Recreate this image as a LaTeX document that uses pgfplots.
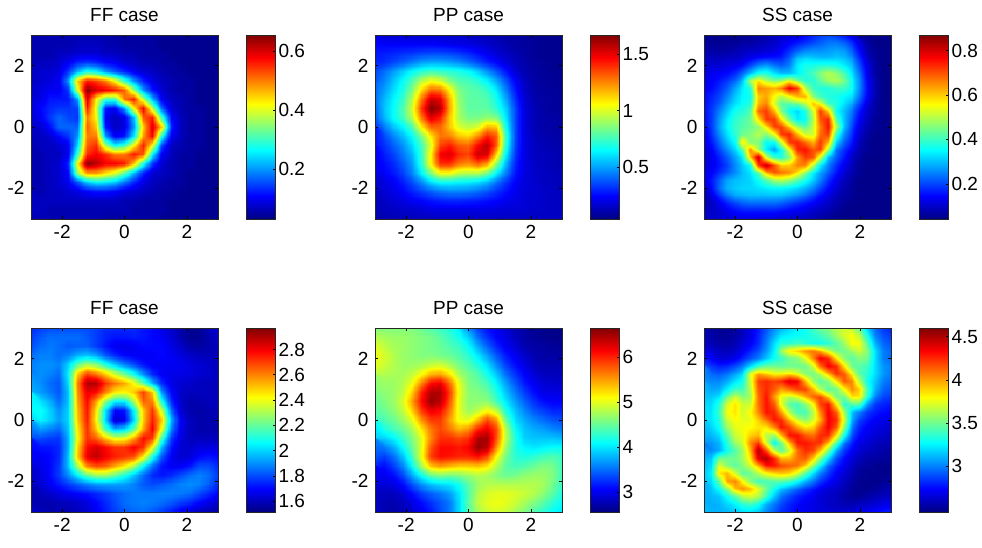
\documentclass[border=0pt]{standalone}
\usepackage{fontspec}
\setmainfont{Liberation Sans}
\usepackage{pgfplots}
\usepgfplotslibrary{patchplots}
\pgfplotsset{compat=1.18}
\newcommand\fs{\fontsize{19}{22}\selectfont}
\pgfplotsset{
 panel/.style n args={3}{
  at={(#1pt,#2pt)},anchor=south west,scale only axis,width=187pt,height=184pt,
  xmin=-3,xmax=3,ymin=-3,ymax=3,xtick={-2,0,2},ytick={-2,0,2},
  xticklabels={-2,0,2},yticklabels={-2,0,2},
  tick align=inside,major tick length=3pt,tick style={black,line width=0.5pt},
  axis line style={line width=0.7pt,black!85},
  tick label style={font=\fs},
  xticklabel style={yshift=-3pt},yticklabel style={xshift=-3pt},
  title style={font=\fs,yshift=4pt},
  title=#3,colormap/jet,axis on top,
 },
 cb/.style 2 args={point meta min=#1,point meta max=#2},
 g21/.style={surf,shader=interp,patch type=bilinear,mesh/cols=21,mesh/ordering=x varies},
 g25/.style={surf,shader=interp,patch type=bilinear,mesh/cols=25,mesh/ordering=x varies},
}
% colour bar: x pos, y pos, min, max, ticks
\newcommand\cbar[5]{%
\begin{axis}[at={(#1pt,#2pt)},anchor=south west,scale only axis,width=29pt,height=184pt,
  xmin=0,xmax=1,ymin=#3,ymax=#4,xtick=\empty,ytick={#5},yticklabels={#5},
  ytick pos=right,yticklabel pos=right,
  tick align=inside,major tick length=2.5pt,tick style={black,line width=0.5pt},
  axis line style={line width=0.7pt,black!85},tick label style={font=\fs},
  colormap/jet,point meta min=#3,point meta max=#4,axis on top]
\addplot[surf,shader=interp,mesh/cols=2,mesh/ordering=x varies,point meta=y] coordinates {(0,#3)(1,#3)(0,#4)(1,#4)};
\end{axis}}
\begin{document}
\begin{tikzpicture}
\path[use as bounding box] (0pt,0pt) rectangle (982pt,547pt);
% ---------- FF top
\begin{axis}[panel={31}{328}{FF case},cb={0.03}{0.654}]
\addplot[g21] table[row sep=\\,header=false,x expr={-3+0.3*mod(\coordindex,21)},y expr={3-0.3*floor(\coordindex/21)},point meta=\thisrowno{0}]{
.06\\.06\\.06\\.06\\.06\\.06\\.06\\.06\\.06\\.05\\.05\\.05\\.05\\.05\\.04\\.04\\.04\\.04\\.04\\.04\\.04\\
.06\\.06\\.06\\.06\\.06\\.07\\.07\\.07\\.06\\.06\\.05\\.05\\.05\\.05\\.04\\.04\\.04\\.04\\.04\\.04\\.04\\
.06\\.06\\.06\\.07\\.07\\.08\\.08\\.08\\.07\\.07\\.06\\.06\\.05\\.05\\.05\\.04\\.04\\.04\\.04\\.04\\.04\\
.06\\.07\\.07\\.08\\.1\\.13\\.14\\.13\\.11\\.1\\.08\\.07\\.06\\.06\\.05\\.05\\.04\\.04\\.04\\.04\\.04\\
.07\\.08\\.08\\.09\\.14\\.22\\.28\\.26\\.2\\.16\\.13\\.1\\.08\\.07\\.06\\.05\\.05\\.04\\.04\\.04\\.04\\
.07\\.08\\.09\\.1\\.2\\.45\\.56\\.54\\.5\\.42\\.3\\.2\\.13\\.09\\.07\\.06\\.05\\.05\\.04\\.04\\.04\\
.07\\.09\\.1\\.1\\.14\\.4\\.65\\.6\\.58\\.56\\.52\\.36\\.2\\.12\\.08\\.06\\.05\\.05\\.04\\.04\\.04\\
.08\\.09\\.12\\.12\\.12\\.2\\.6\\.42\\.3\\.3\\.5\\.56\\.38\\.22\\.1\\.07\\.06\\.05\\.04\\.04\\.04\\
.08\\.11\\.13\\.14\\.14\\.15\\.56\\.4\\.12\\.1\\.2\\.42\\.58\\.38\\.17\\.08\\.06\\.05\\.05\\.04\\.04\\
.08\\.1\\.14\\.17\\.15\\.14\\.5\\.42\\.1\\.07\\.09\\.22\\.52\\.56\\.3\\.11\\.07\\.05\\.05\\.04\\.04\\
.07\\.08\\.11\\.17\\.17\\.17\\.52\\.45\\.12\\.07\\.09\\.2\\.45\\.6\\.45\\.13\\.07\\.05\\.05\\.04\\.04\\
.07\\.07\\.08\\.11\\.14\\.2\\.5\\.5\\.2\\.1\\.12\\.25\\.48\\.58\\.28\\.1\\.07\\.05\\.05\\.04\\.04\\
.06\\.07\\.07\\.08\\.1\\.24\\.52\\.55\\.36\\.26\\.3\\.42\\.56\\.42\\.15\\.07\\.06\\.05\\.05\\.04\\.04\\
.06\\.06\\.07\\.07\\.1\\.3\\.55\\.58\\.55\\.5\\.5\\.56\\.52\\.26\\.1\\.07\\.05\\.05\\.04\\.04\\.04\\
.06\\.06\\.07\\.08\\.13\\.42\\.65\\.62\\.58\\.58\\.56\\.46\\.28\\.14\\.08\\.06\\.05\\.05\\.04\\.04\\.04\\
.06\\.06\\.07\\.08\\.11\\.36\\.48\\.48\\.44\\.4\\.32\\.22\\.13\\.08\\.07\\.06\\.05\\.04\\.04\\.04\\.04\\
.06\\.06\\.07\\.08\\.1\\.16\\.23\\.26\\.25\\.23\\.18\\.13\\.09\\.07\\.06\\.05\\.05\\.04\\.04\\.04\\.04\\
.06\\.06\\.07\\.07\\.08\\.09\\.11\\.12\\.12\\.11\\.09\\.08\\.07\\.06\\.05\\.05\\.04\\.04\\.04\\.04\\.04\\
.07\\.07\\.07\\.07\\.07\\.07\\.07\\.07\\.07\\.07\\.06\\.06\\.05\\.05\\.05\\.04\\.04\\.04\\.04\\.04\\.04\\
.07\\.07\\.06\\.06\\.06\\.06\\.06\\.06\\.06\\.06\\.06\\.05\\.05\\.05\\.05\\.04\\.04\\.04\\.04\\.04\\.04\\
.06\\.06\\.06\\.06\\.06\\.06\\.06\\.06\\.05\\.05\\.05\\.05\\.05\\.05\\.04\\.04\\.04\\.04\\.04\\.04\\.04\\
};
\end{axis}
\cbar{246}{328}{0.03}{0.654}{0.2,0.4,0.6}
% ---------- PP top
\begin{axis}[panel={375}{328}{PP case},cb={0.044}{1.667}]
\addplot[g21] table[row sep=\\,header=false,x expr={-3+0.3*mod(\coordindex,21)},y expr={3-0.3*floor(\coordindex/21)},point meta=\thisrowno{0}]{
.2\\.18\\.17\\.17\\.17\\.17\\.17\\.17\\.16\\.16\\.15\\.14\\.13\\.12\\.11\\.1\\.09\\.08\\.07\\.07\\.07\\
.25\\.24\\.24\\.24\\.24\\.24\\.24\\.23\\.22\\.21\\.2\\.18\\.16\\.14\\.12\\.1\\.09\\.08\\.07\\.07\\.07\\
.28\\.29\\.3\\.32\\.33\\.35\\.36\\.36\\.35\\.33\\.3\\.26\\.22\\.18\\.15\\.12\\.1\\.08\\.07\\.07\\.07\\
.3\\.32\\.36\\.4\\.45\\.5\\.52\\.52\\.5\\.47\\.42\\.36\\.3\\.25\\.19\\.14\\.11\\.09\\.08\\.07\\.07\\
.36\\.42\\.5\\.58\\.66\\.72\\.76\\.74\\.72\\.7\\.66\\.58\\.48\\.38\\.28\\.18\\.12\\.1\\.08\\.08\\.07\\
.38\\.46\\.56\\.66\\.78\\.95\\1.05\\1.0\\.86\\.78\\.76\\.72\\.64\\.52\\.38\\.24\\.15\\.1\\.09\\.08\\.08\\
.4\\.5\\.6\\.7\\.86\\1.12\\1.3\\1.28\\1.08\\.85\\.8\\.78\\.74\\.62\\.45\\.28\\.16\\.11\\.09\\.09\\.08\\
.42\\.54\\.64\\.74\\.95\\1.28\\1.55\\1.5\\1.18\\.88\\.8\\.8\\.78\\.68\\.52\\.32\\.18\\.12\\.1\\.09\\.08\\
.42\\.56\\.66\\.78\\1.0\\1.38\\1.66\\1.58\\1.2\\.9\\.8\\.8\\.8\\.72\\.58\\.36\\.19\\.13\\.1\\.09\\.09\\
.38\\.54\\.66\\.76\\.95\\1.28\\1.52\\1.42\\1.15\\.92\\.84\\.84\\.88\\.85\\.62\\.36\\.19\\.13\\.11\\.1\\.09\\
.32\\.44\\.56\\.64\\.78\\1.08\\1.3\\1.3\\1.15\\1.0\\.95\\1.0\\1.18\\1.15\\.68\\.36\\.19\\.13\\.11\\.1\\.1\\
.28\\.36\\.46\\.55\\.66\\.85\\1.1\\1.28\\1.26\\1.15\\1.12\\1.25\\1.42\\1.32\\.75\\.36\\.2\\.14\\.12\\.11\\.1\\
.26\\.32\\.4\\.48\\.6\\.76\\1.02\\1.36\\1.42\\1.32\\1.3\\1.46\\1.58\\1.32\\.72\\.35\\.2\\.15\\.13\\.12\\.11\\
.24\\.29\\.35\\.44\\.54\\.74\\1.08\\1.48\\1.52\\1.4\\1.36\\1.55\\1.52\\1.12\\.64\\.33\\.2\\.15\\.14\\.13\\.11\\
.22\\.26\\.31\\.39\\.5\\.72\\1.08\\1.4\\1.4\\1.28\\1.24\\1.32\\1.22\\.88\\.54\\.3\\.2\\.16\\.14\\.13\\.12\\
.2\\.24\\.28\\.35\\.46\\.64\\.86\\1.05\\1.05\\.96\\.94\\.94\\.84\\.64\\.45\\.28\\.2\\.16\\.15\\.14\\.13\\
.17\\.2\\.23\\.29\\.37\\.47\\.6\\.66\\.66\\.64\\.63\\.6\\.54\\.43\\.33\\.24\\.19\\.17\\.15\\.14\\.13\\
.15\\.18\\.21\\.25\\.3\\.35\\.4\\.44\\.46\\.46\\.45\\.42\\.38\\.32\\.27\\.22\\.18\\.17\\.16\\.15\\.14\\
.14\\.16\\.18\\.2\\.23\\.25\\.28\\.3\\.31\\.31\\.3\\.29\\.27\\.25\\.22\\.2\\.18\\.17\\.16\\.15\\.15\\
.13\\.14\\.15\\.16\\.17\\.18\\.2\\.2\\.2\\.2\\.2\\.2\\.2\\.19\\.18\\.18\\.17\\.16\\.16\\.15\\.15\\
.11\\.12\\.13\\.13\\.14\\.14\\.14\\.15\\.15\\.15\\.15\\.15\\.15\\.15\\.15\\.15\\.15\\.15\\.15\\.15\\.15\\
};
\end{axis}
\cbar{590}{328}{0.044}{1.667}{0.5,1,1.5}
% ---------- SS top
\begin{axis}[panel={704}{328}{SS case},cb={0.042}{0.87}]
\addplot[g25] table[row sep=\\,header=false,x expr={-3+0.25*mod(\coordindex,25)},y expr={3-0.25*floor(\coordindex/25)},point meta=\thisrowno{0}]{
.06\\.05\\.05\\.05\\.05\\.05\\.06\\.07\\.08\\.09\\.1\\.11\\.12\\.14\\.17\\.19\\.2\\.18\\.15\\.11\\.07\\.05\\.05\\.05\\.05\\
.07\\.06\\.06\\.06\\.06\\.07\\.07\\.08\\.09\\.1\\.12\\.14\\.16\\.18\\.2\\.22\\.24\\.24\\.22\\.18\\.12\\.07\\.05\\.05\\.05\\
.08\\.07\\.07\\.07\\.08\\.09\\.1\\.1\\.11\\.12\\.14\\.18\\.22\\.25\\.26\\.26\\.27\\.28\\.27\\.22\\.15\\.08\\.06\\.05\\.05\\
.1\\.09\\.09\\.1\\.1\\.11\\.13\\.15\\.16\\.16\\.17\\.22\\.3\\.32\\.31\\.3\\.3\\.31\\.3\\.26\\.18\\.1\\.06\\.05\\.05\\
.11\\.11\\.11\\.12\\.13\\.15\\.2\\.25\\.27\\.24\\.22\\.25\\.34\\.37\\.37\\.38\\.38\\.37\\.34\\.3\\.21\\.12\\.07\\.05\\.05\\
.12\\.13\\.14\\.15\\.18\\.23\\.3\\.37\\.38\\.33\\.3\\.3\\.34\\.38\\.41\\.46\\.5\\.47\\.41\\.33\\.24\\.13\\.07\\.05\\.05\\
.13\\.14\\.16\\.19\\.23\\.3\\.5\\.58\\.5\\.46\\.48\\.55\\.45\\.38\\.38\\.43\\.48\\.5\\.45\\.36\\.26\\.14\\.08\\.05\\.05\\
.13\\.15\\.18\\.22\\.28\\.34\\.38\\.66\\.64\\.62\\.66\\.78\\.72\\.5\\.4\\.38\\.38\\.4\\.4\\.36\\.26\\.15\\.08\\.05\\.05\\
.14\\.17\\.2\\.25\\.31\\.35\\.36\\.6\\.63\\.56\\.5\\.56\\.62\\.62\\.46\\.4\\.38\\.37\\.35\\.33\\.24\\.14\\.08\\.05\\.05\\
.15\\.18\\.22\\.28\\.33\\.36\\.38\\.62\\.66\\.52\\.42\\.42\\.44\\.5\\.62\\.55\\.4\\.38\\.33\\.28\\.2\\.12\\.07\\.05\\.05\\
.15\\.19\\.25\\.31\\.37\\.38\\.42\\.68\\.72\\.62\\.46\\.36\\.32\\.38\\.52\\.72\\.6\\.36\\.3\\.24\\.16\\.1\\.07\\.05\\.05\\
.15\\.19\\.27\\.34\\.39\\.41\\.44\\.58\\.72\\.72\\.58\\.44\\.34\\.36\\.5\\.7\\.74\\.42\\.3\\.22\\.14\\.09\\.06\\.05\\.05\\
.14\\.19\\.28\\.35\\.4\\.42\\.44\\.46\\.58\\.72\\.72\\.6\\.48\\.42\\.52\\.66\\.76\\.5\\.3\\.2\\.12\\.08\\.06\\.05\\.05\\
.13\\.18\\.26\\.33\\.39\\.44\\.46\\.5\\.46\\.55\\.72\\.74\\.62\\.52\\.52\\.68\\.72\\.4\\.26\\.18\\.11\\.07\\.05\\.05\\.05\\
.12\\.16\\.23\\.3\\.36\\.58\\.46\\.46\\.36\\.36\\.52\\.72\\.74\\.68\\.62\\.72\\.62\\.32\\.22\\.16\\.09\\.06\\.05\\.05\\.05\\
.11\\.14\\.2\\.26\\.32\\.42\\.66\\.48\\.34\\.27\\.36\\.54\\.74\\.76\\.7\\.72\\.48\\.24\\.18\\.13\\.08\\.06\\.05\\.05\\.05\\
.11\\.13\\.17\\.22\\.28\\.34\\.6\\.82\\.52\\.4\\.38\\.46\\.64\\.72\\.7\\.52\\.3\\.22\\.16\\.1\\.07\\.05\\.05\\.05\\.05\\
.11\\.13\\.16\\.2\\.26\\.31\\.36\\.72\\.82\\.7\\.6\\.6\\.66\\.66\\.5\\.34\\.25\\.18\\.13\\.09\\.06\\.05\\.05\\.05\\.05\\
.12\\.14\\.18\\.22\\.26\\.3\\.33\\.42\\.62\\.7\\.68\\.66\\.58\\.46\\.34\\.28\\.22\\.16\\.11\\.08\\.06\\.05\\.05\\.05\\.05\\
.12\\.16\\.22\\.28\\.3\\.31\\.32\\.36\\.42\\.48\\.5\\.47\\.42\\.37\\.31\\.25\\.18\\.13\\.09\\.07\\.05\\.05\\.05\\.05\\.05\\
.1\\.15\\.23\\.29\\.31\\.32\\.32\\.33\\.34\\.35\\.35\\.34\\.32\\.29\\.25\\.2\\.15\\.11\\.08\\.06\\.05\\.05\\.05\\.05\\.05\\
.08\\.12\\.18\\.24\\.28\\.29\\.3\\.3\\.3\\.3\\.3\\.28\\.26\\.23\\.19\\.15\\.12\\.09\\.07\\.06\\.05\\.05\\.05\\.05\\.05\\
.08\\.09\\.13\\.17\\.2\\.22\\.23\\.23\\.23\\.23\\.22\\.2\\.18\\.16\\.14\\.12\\.1\\.08\\.06\\.05\\.05\\.05\\.05\\.05\\.05\\
.09\\.1\\.11\\.13\\.15\\.16\\.16\\.16\\.16\\.16\\.15\\.14\\.13\\.12\\.1\\.09\\.08\\.06\\.05\\.05\\.05\\.05\\.05\\.05\\.05\\
.1\\.11\\.11\\.11\\.12\\.12\\.12\\.12\\.11\\.11\\.1\\.1\\.09\\.09\\.08\\.07\\.06\\.05\\.05\\.05\\.05\\.05\\.05\\.05\\.05\\
};
\end{axis}
\cbar{919}{328}{0.042}{0.87}{0.2,0.4,0.6,0.8}
% ---------- FF bottom
\begin{axis}[panel={31}{35}{FF case},cb={1.513}{2.97}]
\addplot[g21] table[row sep=\\,header=false,x expr={-3+0.3*mod(\coordindex,21)},y expr={3-0.3*floor(\coordindex/21)},point meta=\thisrowno{0}]{
1.75\\1.78\\1.8\\1.8\\1.8\\1.8\\1.8\\1.78\\1.75\\1.75\\1.75\\1.75\\1.72\\1.7\\1.66\\1.62\\1.58\\1.54\\1.55\\1.6\\1.65\\
1.78\\1.82\\1.85\\1.85\\1.85\\1.85\\1.82\\1.78\\1.74\\1.72\\1.72\\1.73\\1.72\\1.7\\1.68\\1.64\\1.58\\1.54\\1.54\\1.58\\1.62\\
1.8\\1.85\\1.87\\1.85\\1.82\\1.83\\1.83\\1.78\\1.72\\1.67\\1.66\\1.68\\1.7\\1.7\\1.7\\1.66\\1.62\\1.57\\1.56\\1.58\\1.6\\
1.85\\1.88\\1.88\\1.85\\1.88\\1.95\\1.98\\1.93\\1.82\\1.75\\1.7\\1.68\\1.68\\1.69\\1.7\\1.68\\1.65\\1.62\\1.6\\1.6\\1.6\\
1.88\\1.9\\1.9\\1.88\\2.0\\2.2\\2.3\\2.25\\2.1\\1.98\\1.88\\1.8\\1.72\\1.68\\1.68\\1.68\\1.67\\1.65\\1.63\\1.62\\1.6\\
1.88\\1.9\\1.88\\1.85\\2.05\\2.5\\2.7\\2.62\\2.5\\2.35\\2.22\\2.08\\1.9\\1.75\\1.68\\1.66\\1.66\\1.65\\1.63\\1.62\\1.6\\
1.9\\1.9\\1.85\\1.82\\2.02\\2.6\\2.9\\2.9\\2.72\\2.62\\2.55\\2.42\\2.2\\1.95\\1.75\\1.66\\1.63\\1.62\\1.6\\1.6\\1.6\\
1.95\\1.92\\1.87\\1.82\\1.98\\2.58\\2.82\\2.78\\2.6\\2.45\\2.42\\2.5\\2.7\\2.5\\1.9\\1.7\\1.62\\1.6\\1.6\\1.6\\1.6\\
2.05\\2.02\\1.95\\1.85\\1.98\\2.55\\2.78\\2.55\\2.25\\2.05\\2.05\\2.3\\2.65\\2.6\\2.1\\1.75\\1.62\\1.58\\1.58\\1.6\\1.6\\
2.05\\2.08\\2.0\\1.9\\2.0\\2.52\\2.76\\2.45\\2.02\\1.7\\1.72\\2.05\\2.5\\2.72\\2.35\\1.85\\1.63\\1.58\\1.57\\1.58\\1.6\\
2.0\\2.05\\2.0\\1.92\\2.0\\2.5\\2.75\\2.42\\2.0\\1.62\\1.68\\2.0\\2.5\\2.75\\2.5\\1.95\\1.68\\1.6\\1.58\\1.58\\1.58\\
1.92\\1.92\\1.88\\1.85\\1.98\\2.45\\2.72\\2.5\\2.15\\1.95\\2.0\\2.2\\2.55\\2.8\\2.4\\1.88\\1.67\\1.6\\1.58\\1.58\\1.58\\
1.8\\1.8\\1.78\\1.77\\1.95\\2.42\\2.72\\2.65\\2.5\\2.38\\2.4\\2.55\\2.78\\2.7\\2.15\\1.78\\1.65\\1.6\\1.6\\1.6\\1.6\\
1.72\\1.72\\1.72\\1.75\\1.95\\2.48\\2.78\\2.85\\2.78\\2.72\\2.72\\2.8\\2.72\\2.4\\1.95\\1.72\\1.63\\1.62\\1.65\\1.65\\1.65\\
1.68\\1.68\\1.7\\1.75\\1.98\\2.5\\2.82\\2.88\\2.8\\2.75\\2.72\\2.68\\2.45\\2.1\\1.82\\1.68\\1.63\\1.64\\1.7\\1.72\\1.7\\
1.65\\1.66\\1.7\\1.77\\1.98\\2.3\\2.6\\2.68\\2.65\\2.55\\2.45\\2.3\\2.05\\1.85\\1.72\\1.68\\1.68\\1.72\\1.8\\1.8\\1.75\\
1.62\\1.65\\1.7\\1.78\\1.9\\2.05\\2.2\\2.28\\2.28\\2.2\\2.1\\1.98\\1.85\\1.75\\1.72\\1.75\\1.8\\1.85\\1.88\\1.85\\1.78\\
1.6\\1.63\\1.68\\1.73\\1.78\\1.83\\1.88\\1.92\\1.93\\1.93\\1.92\\1.88\\1.82\\1.8\\1.82\\1.85\\1.88\\1.9\\1.88\\1.83\\1.75\\
1.58\\1.6\\1.62\\1.65\\1.68\\1.7\\1.72\\1.75\\1.78\\1.82\\1.85\\1.87\\1.87\\1.87\\1.88\\1.88\\1.87\\1.85\\1.8\\1.75\\1.7\\
1.58\\1.58\\1.58\\1.6\\1.6\\1.62\\1.65\\1.7\\1.75\\1.8\\1.85\\1.87\\1.88\\1.87\\1.85\\1.82\\1.78\\1.75\\1.7\\1.66\\1.62\\
1.62\\1.6\\1.58\\1.58\\1.58\\1.6\\1.63\\1.68\\1.73\\1.78\\1.82\\1.84\\1.85\\1.82\\1.78\\1.73\\1.68\\1.64\\1.6\\1.58\\1.56\\
};
\end{axis}
\cbar{246}{35}{1.513}{2.97}{1.6,1.8,2,2.2,2.4,2.6,2.8}
% ---------- PP bottom
\begin{axis}[panel={375}{35}{PP case},cb={2.55}{6.64}]
\addplot[g21] table[row sep=\\,header=false,x expr={-3+0.3*mod(\coordindex,21)},y expr={3-0.3*floor(\coordindex/21)},point meta=\thisrowno{0}]{
4.6\\4.6\\4.6\\4.6\\4.6\\4.5\\4.4\\4.3\\4.2\\4.0\\3.6\\3.3\\3.1\\3.0\\2.9\\2.75\\2.7\\2.65\\2.6\\2.6\\2.6\\
4.8\\4.75\\4.7\\4.7\\4.65\\4.6\\4.55\\4.45\\4.3\\4.15\\3.9\\3.5\\3.25\\3.05\\2.95\\2.8\\2.7\\2.65\\2.6\\2.6\\2.6\\
5.0\\4.85\\4.75\\4.7\\4.65\\4.6\\4.55\\4.5\\4.4\\4.3\\4.1\\3.75\\3.45\\3.2\\3.0\\2.9\\2.75\\2.7\\2.7\\2.65\\2.65\\
5.05\\4.95\\4.8\\4.7\\4.65\\4.6\\4.6\\4.55\\4.5\\4.4\\4.25\\4.0\\3.7\\3.4\\3.15\\3.0\\2.85\\2.75\\2.7\\2.7\\2.7\\
5.0\\4.9\\4.8\\4.7\\4.7\\4.75\\4.85\\4.9\\4.75\\4.55\\4.4\\4.2\\3.95\\3.6\\3.3\\3.1\\2.95\\2.8\\2.75\\2.75\\2.75\\
4.85\\4.8\\4.75\\4.75\\4.85\\5.1\\5.4\\5.45\\5.2\\4.75\\4.55\\4.4\\4.15\\3.85\\3.5\\3.25\\3.05\\2.9\\2.8\\2.8\\2.8\\
4.7\\4.7\\4.7\\4.8\\5.05\\5.6\\6.1\\6.2\\5.7\\5.0\\4.6\\4.5\\4.35\\4.05\\3.7\\3.4\\3.15\\3.0\\2.9\\2.85\\2.85\\
4.6\\4.65\\4.7\\4.85\\5.3\\6.0\\6.45\\6.45\\5.9\\5.05\\4.65\\4.6\\4.5\\4.2\\3.85\\3.55\\3.3\\3.1\\2.95\\2.95\\2.95\\
4.55\\4.6\\4.7\\4.95\\5.5\\6.1\\6.55\\6.4\\5.8\\5.0\\4.65\\4.65\\4.65\\4.35\\4.0\\3.7\\3.45\\3.25\\3.1\\3.05\\3.05\\
4.45\\4.5\\4.65\\4.85\\5.3\\5.9\\6.2\\6.1\\5.65\\5.0\\4.7\\4.85\\5.1\\4.85\\4.2\\3.85\\3.6\\3.4\\3.3\\3.2\\3.2\\
4.3\\4.4\\4.5\\4.7\\5.0\\5.55\\5.9\\5.9\\5.5\\5.05\\5.0\\5.4\\5.85\\5.5\\4.5\\3.95\\3.75\\3.6\\3.5\\3.4\\3.35\\
4.1\\4.2\\4.35\\4.5\\4.75\\5.2\\5.65\\5.85\\5.65\\5.4\\5.55\\6.0\\6.2\\5.85\\4.8\\4.1\\3.85\\3.75\\3.7\\3.6\\3.55\\
3.9\\3.9\\4.05\\4.3\\4.6\\5.0\\5.6\\5.95\\5.95\\5.85\\5.95\\6.45\\6.5\\5.8\\4.85\\4.2\\3.9\\3.85\\3.85\\3.85\\3.8\\
3.6\\3.55\\3.75\\4.1\\4.5\\5.0\\5.8\\6.1\\6.1\\6.05\\6.15\\6.55\\6.4\\5.55\\4.7\\4.2\\4.05\\4.0\\4.05\\4.1\\4.1\\
3.4\\3.3\\3.5\\3.85\\4.35\\5.05\\5.9\\6.1\\6.05\\6.0\\6.0\\6.1\\5.85\\5.1\\4.55\\4.25\\4.2\\4.25\\4.35\\4.4\\4.3\\
3.2\\3.1\\3.3\\3.6\\4.1\\4.75\\5.35\\5.5\\5.4\\5.3\\5.3\\5.35\\5.2\\4.8\\4.45\\4.35\\4.4\\4.5\\4.6\\4.55\\4.35\\
3.05\\3.0\\3.1\\3.35\\3.75\\4.15\\4.5\\4.6\\4.55\\4.6\\4.7\\4.8\\4.75\\4.6\\4.5\\4.55\\4.65\\4.7\\4.7\\4.6\\4.35\\
2.95\\2.9\\2.95\\3.1\\3.4\\3.65\\3.85\\3.95\\4.0\\4.15\\4.45\\4.7\\4.8\\4.8\\4.8\\4.8\\4.8\\4.8\\4.75\\4.55\\4.3\\
2.85\\2.8\\2.8\\2.9\\3.1\\3.3\\3.45\\3.55\\3.7\\4.0\\4.4\\4.8\\4.95\\5.0\\5.0\\4.95\\4.9\\4.8\\4.65\\4.45\\4.2\\
2.8\\2.75\\2.75\\2.8\\2.95\\3.1\\3.25\\3.4\\3.55\\3.95\\4.45\\4.85\\5.0\\5.05\\5.0\\4.9\\4.75\\4.6\\4.45\\4.25\\4.1\\
2.8\\2.75\\2.7\\2.75\\2.85\\3.0\\3.15\\3.35\\3.55\\3.95\\4.4\\4.75\\4.9\\4.95\\4.9\\4.75\\4.6\\4.4\\4.25\\4.1\\4.0\\
};
\end{axis}
\cbar{590}{35}{2.55}{6.64}{3,4,5,6}
% ---------- SS bottom
\begin{axis}[panel={704}{35}{SS case},cb={2.47}{4.6}]
\addplot[g25] table[row sep=\\,header=false,x expr={-3+0.25*mod(\coordindex,25)},y expr={3-0.25*floor(\coordindex/25)},point meta=\thisrowno{0}]{
2.6\\2.55\\2.52\\2.52\\2.55\\2.6\\2.68\\2.78\\2.9\\3.02\\3.1\\3.18\\3.25\\3.3\\3.4\\3.5\\3.55\\3.65\\3.7\\3.65\\3.45\\3.15\\2.95\\2.85\\2.8\\
2.6\\2.55\\2.52\\2.52\\2.55\\2.6\\2.68\\2.8\\2.95\\3.1\\3.22\\3.25\\3.28\\3.3\\3.35\\3.4\\3.48\\3.6\\3.72\\3.8\\3.65\\3.3\\3.0\\2.9\\2.85\\
2.62\\2.58\\2.55\\2.55\\2.58\\2.65\\2.72\\2.82\\3.0\\3.2\\3.35\\3.35\\3.4\\3.35\\3.3\\3.3\\3.35\\3.45\\3.6\\3.8\\3.78\\3.45\\3.1\\2.95\\2.9\\
2.7\\2.65\\2.6\\2.6\\2.62\\2.7\\2.8\\2.9\\3.05\\3.25\\3.6\\3.85\\3.92\\4.05\\4.1\\3.95\\3.7\\3.5\\3.5\\3.6\\3.7\\3.55\\3.2\\3.0\\2.95\\
2.8\\2.72\\2.65\\2.65\\2.7\\2.8\\2.9\\3.0\\3.15\\3.3\\3.38\\3.5\\3.55\\3.75\\4.05\\4.35\\4.25\\3.85\\3.55\\3.45\\3.55\\3.5\\3.2\\3.0\\2.95\\
2.9\\2.85\\2.8\\2.82\\2.9\\3.0\\3.2\\3.4\\3.5\\3.5\\3.48\\3.5\\3.5\\3.5\\3.7\\4.1\\4.35\\4.25\\3.85\\3.5\\3.45\\3.4\\3.2\\3.05\\3.0\\
3.0\\2.95\\2.92\\2.98\\3.08\\3.2\\3.75\\4.0\\3.9\\3.8\\3.8\\3.85\\3.75\\3.55\\3.5\\3.65\\3.95\\4.25\\4.15\\3.8\\3.45\\3.35\\3.2\\3.05\\3.0\\
3.05\\3.02\\3.02\\3.1\\3.22\\3.3\\3.7\\4.2\\4.25\\4.2\\4.25\\4.42\\4.35\\3.95\\3.6\\3.45\\3.55\\3.85\\4.15\\4.05\\3.65\\3.3\\3.15\\3.0\\2.95\\
3.1\\3.08\\3.1\\3.25\\3.4\\3.4\\3.65\\4.15\\4.25\\4.15\\4.0\\4.1\\4.2\\4.2\\3.95\\3.65\\3.45\\3.5\\3.8\\4.05\\3.9\\3.4\\3.1\\2.95\\2.9\\
3.15\\3.15\\3.22\\3.5\\3.7\\3.55\\3.6\\4.1\\4.3\\4.0\\3.75\\3.65\\3.75\\3.95\\4.15\\4.2\\3.9\\3.5\\3.5\\3.85\\3.85\\3.35\\3.0\\2.88\\2.85\\
3.18\\3.2\\3.35\\3.72\\3.85\\3.7\\3.7\\4.1\\4.3\\4.15\\3.75\\3.45\\3.4\\3.55\\3.8\\4.2\\4.3\\3.85\\3.35\\3.45\\3.45\\3.05\\2.85\\2.8\\2.78\\
3.2\\3.22\\3.4\\3.78\\3.85\\3.7\\3.8\\4.05\\4.3\\4.25\\4.0\\3.65\\3.42\\3.42\\3.65\\4.05\\4.35\\4.15\\3.6\\3.15\\3.0\\2.85\\2.78\\2.75\\2.72\\
3.2\\3.22\\3.35\\3.7\\3.8\\3.75\\3.75\\3.9\\4.1\\4.3\\4.25\\3.95\\3.7\\3.55\\3.7\\3.95\\4.35\\4.25\\3.7\\3.1\\2.88\\2.78\\2.72\\2.7\\2.68\\
3.15\\3.18\\3.3\\3.6\\3.75\\3.78\\3.8\\3.85\\3.85\\4.05\\4.3\\4.2\\4.0\\3.85\\3.9\\4.15\\4.35\\4.15\\3.55\\3.0\\2.8\\2.72\\2.68\\2.65\\2.62\\
3.1\\3.12\\3.2\\3.45\\3.7\\3.75\\3.9\\3.95\\3.65\\3.6\\3.95\\4.3\\4.3\\4.15\\4.1\\4.25\\4.25\\3.85\\3.3\\2.9\\2.75\\2.68\\2.65\\2.62\\2.6\\
3.05\\3.05\\3.12\\3.35\\3.6\\3.7\\4.05\\4.2\\3.7\\3.25\\3.5\\3.95\\4.3\\4.3\\4.25\\4.25\\3.95\\3.45\\3.0\\2.8\\2.68\\2.65\\2.6\\2.58\\2.58\\
3.0\\3.02\\3.1\\3.3\\3.45\\3.6\\3.95\\4.5\\4.15\\3.65\\3.45\\3.7\\4.1\\4.25\\4.2\\3.95\\3.55\\3.1\\2.85\\2.72\\2.65\\2.6\\2.58\\2.55\\2.55\\
3.1\\3.15\\3.5\\3.5\\3.5\\3.6\\3.85\\4.4\\4.5\\4.25\\3.95\\3.95\\4.1\\4.15\\3.9\\3.55\\3.2\\2.9\\2.75\\2.65\\2.6\\2.55\\2.55\\2.52\\2.52\\
3.1\\3.2\\3.75\\3.55\\3.45\\3.55\\3.7\\3.95\\4.3\\4.3\\4.2\\4.15\\4.1\\3.9\\3.55\\3.25\\2.95\\2.8\\2.7\\2.62\\2.55\\2.52\\2.5\\2.5\\2.5\\
3.15\\3.25\\3.85\\3.95\\3.7\\3.45\\3.5\\3.65\\3.8\\3.88\\3.92\\3.88\\3.72\\3.45\\3.2\\3.0\\2.85\\2.72\\2.65\\2.58\\2.52\\2.5\\2.5\\2.5\\2.5\\
3.15\\3.2\\3.5\\4.0\\4.05\\3.8\\3.55\\3.4\\3.42\\3.45\\3.45\\3.4\\3.28\\3.12\\2.98\\2.85\\2.75\\2.68\\2.6\\2.55\\2.5\\2.5\\2.5\\2.52\\2.55\\
3.1\\3.15\\3.3\\3.55\\3.95\\4.05\\3.95\\3.75\\3.5\\3.3\\3.15\\3.05\\2.95\\2.85\\2.78\\2.7\\2.65\\2.62\\2.58\\2.52\\2.5\\2.5\\2.52\\2.55\\2.58\\
3.1\\3.12\\3.15\\3.3\\3.45\\3.65\\3.72\\3.65\\3.4\\3.15\\2.98\\2.88\\2.8\\2.75\\2.7\\2.65\\2.62\\2.6\\2.55\\2.52\\2.52\\2.55\\2.58\\2.6\\2.62\\
3.1\\3.1\\3.12\\3.18\\3.25\\3.35\\3.4\\3.3\\3.1\\2.98\\2.88\\2.8\\2.75\\2.7\\2.68\\2.65\\2.62\\2.6\\2.58\\2.58\\2.6\\2.62\\2.65\\2.68\\2.7\\
3.15\\3.12\\3.1\\3.12\\3.15\\3.2\\3.2\\3.15\\3.02\\2.92\\2.82\\2.78\\2.72\\2.7\\2.68\\2.66\\2.65\\2.64\\2.64\\2.65\\2.68\\2.72\\2.75\\2.78\\2.8\\
};
\end{axis}
\cbar{919}{35}{2.47}{4.6}{3,3.5,4,4.5}
\end{tikzpicture}
\end{document}
